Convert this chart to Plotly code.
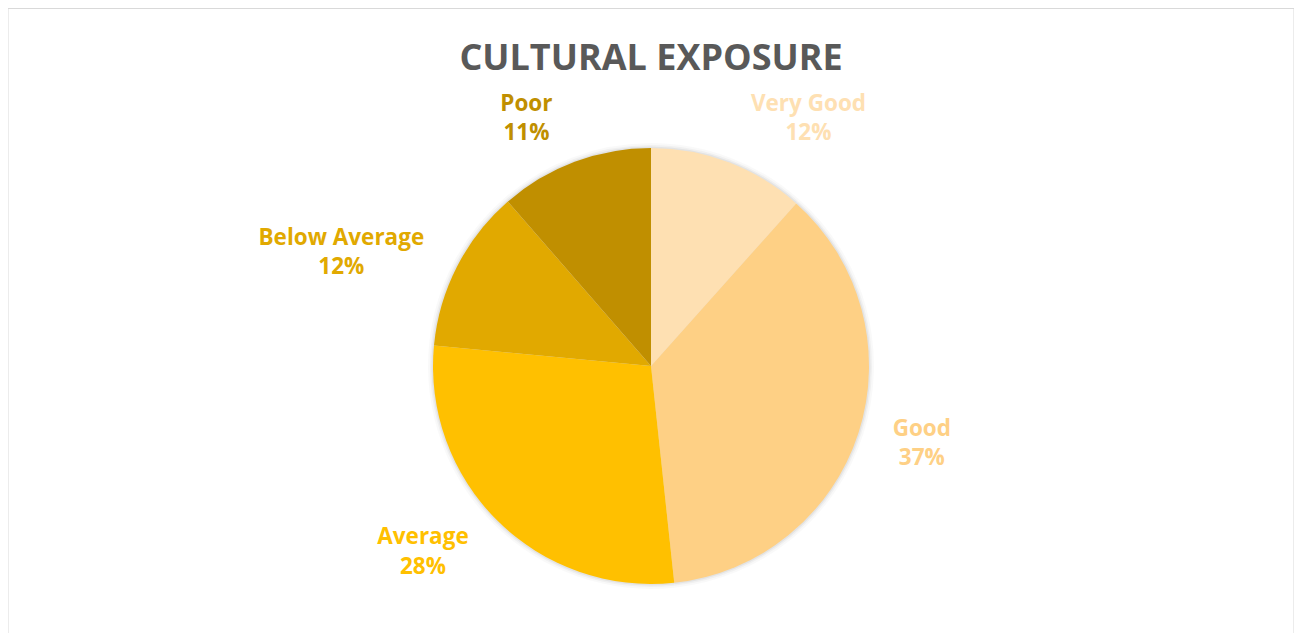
import plotly.graph_objects as go

categories = ["Very Good", "Good", "Average", "Below Average", "Poor"]
values = [11.6, 36.7, 28.2, 12.1, 11.4]
colors = ["#FEE0B2", "#FED085", "#FFC000", "#E1A900", "#C08F00"]
title_text = "CULTURAL EXPOSURE"

W, H = 1286, 625           # page has an 8px body margin
cx, cy, r = 643, 358, 218   # pie centre / radius in figure pixels
R = 238                     # radius of the invisible label ring
FONT = "Open Sans, Carlito, Lato, sans-serif"

def ydom(rad):
    return [(H - cy - rad) / H, (H - cy + rad) / H]

def xdom(rad):
    return [(cx - rad) / W, (cx + rad) / W]

fig = go.Figure()

# soft shadow rings behind the pie
for extra, alpha in [(5, 0.025), (3, 0.035), (1.5, 0.05)]:
    fig.add_trace(go.Pie(
        labels=categories, values=values, sort=False, direction="clockwise",
        marker=dict(colors=[f"rgba(0,0,0,{alpha})"] * len(values), line=dict(width=0)),
        textinfo="none", domain=dict(x=xdom(r + extra), y=ydom(r + extra)),
        showlegend=False, hoverinfo="skip",
    ))

# visible pie
fig.add_trace(go.Pie(
    labels=categories, values=values, sort=False, direction="clockwise",
    rotation=0, marker=dict(colors=colors, line=dict(width=0)),
    textinfo="none", domain=dict(x=xdom(r), y=ydom(r)), showlegend=False,
    hovertemplate="%{label}: %{percent:.0%}<extra></extra>",
))

# invisible larger pie to carry the outside labels
fig.add_trace(go.Pie(
    labels=categories, values=values, sort=False, direction="clockwise",
    rotation=0, marker=dict(colors=["rgba(0,0,0,0)"] * len(values), line=dict(width=0)),
    texttemplate="%{label}<br>%{percent:.0%}", textposition="outside",
    outsidetextfont=dict(family=FONT, size=22.5, color=colors, weight=700),
    domain=dict(x=xdom(R), y=ydom(R)), showlegend=False, hoverinfo="skip",
))

fig.update_layout(
    width=W, height=H,
    margin=dict(l=0, r=0, t=0, b=0),
    paper_bgcolor="white", plot_bgcolor="white",
    title=dict(text=title_text, x=0.5, xanchor="center", y=1 - 49 / H, yanchor="middle",
               yref="container",
               font=dict(family=FONT, size=36, color="#595959", weight=700)),
    shapes=[dict(type="rect", xref="paper", yref="paper", x0=-0.0004, x1=1.0004, y0=-0.05, y1=1,
                 line=dict(color="#D9D9D9", width=2), fillcolor="rgba(0,0,0,0)")],
)

fig.write_html("out.html")
